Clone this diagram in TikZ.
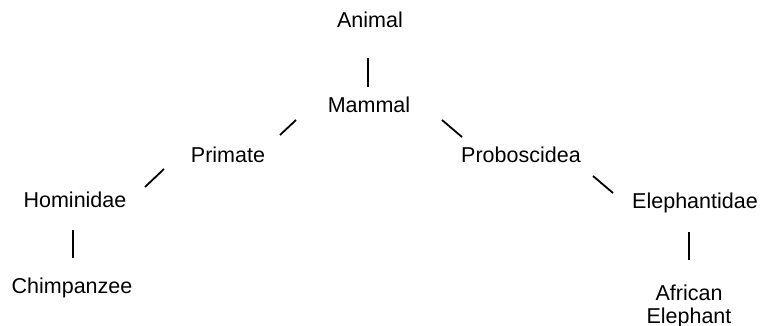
\documentclass[tikz,border=0pt]{standalone}
\usepackage{fontspec}
\setmainfont{Liberation Sans}
\usetikzlibrary{positioning}
\tikzset{
  taxon/.style={inner sep=0pt,anchor=base,align=center,font=\fontsize{10.75}{11.5}\selectfont,text=black},
  link/.style={draw=black,line width=0.9pt}
}

\begin{document}
\begin{tikzpicture}[x=0.5pt,y=-0.5pt]
  \useasboundingbox (0,0) rectangle (760,326);
  \node[taxon] (animal) at (370,27.4) {Animal};
  \node[taxon] (mammal) at (369,112.5) {Mammal};
  \node[taxon] (primate) at (228,162.5) {Primate};
  \node[taxon] (probo) at (521,162.5) {Proboscidea};
  \node[taxon] (homin) at (75,207.5) {Hominidae};
  \node[taxon] (chimp) at (72,293.5) {Chimpanzee};
  \node[taxon] (eleph) at (695,208.5) {Elephantidae};
  \node[taxon] (african) at (689,323.5) {African\\Elephant};
  % short strokes between the ranks
  \draw[link] ([shift={(-2,30.6)}]animal.base) -- ([shift={(-1,-25.5)}]mammal.base);
  \draw[link] ([shift={(-73,7.5)}]mammal.base) -- ([shift={(52,-27.5)}]primate.base);
  \draw[link] ([shift={(73,7.5)}]mammal.base) -- ([shift={(-59,-25.5)}]probo.base);
  \draw[link] ([shift={(-64,6.5)}]primate.base) -- ([shift={(70,-20.5)}]homin.base);
  \draw[link] ([shift={(72,13.5)}]probo.base) -- ([shift={(-82,-15.5)}]eleph.base);
  \draw[link] ([shift={(-2,22.5)}]homin.base) -- ([shift={(1,-35.5)}]chimp.base);
  \draw[link] ([shift={(-6,23.5)}]eleph.base) -- ([shift={(0,-63.5)}]african.base);
\end{tikzpicture}
\end{document}
